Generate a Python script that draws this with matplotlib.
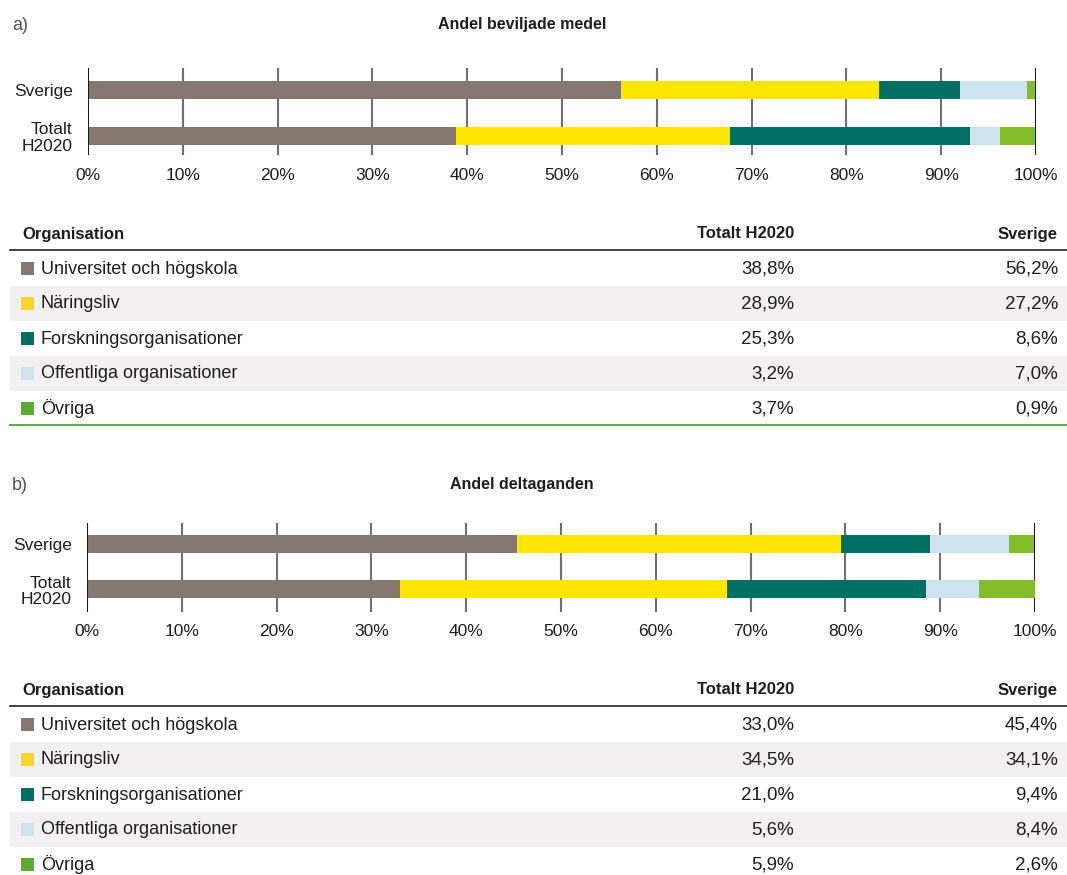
import matplotlib
matplotlib.use('Agg')
import matplotlib.pyplot as plt
from matplotlib import font_manager
from matplotlib.patches import Rectangle

plt.rcParams['font.family'] = ['Liberation Sans', 'DejaVu Sans']

namn = set(f.name for f in font_manager.fontManager.ttflist)
smal = 'Liberation Sans Narrow' if 'Liberation Sans Narrow' in namn else 'Liberation Sans'

# data
organisationer = ['Universitet och högskola', 'Näringsliv', 'Forskningsorganisationer',
                  'Offentliga organisationer', 'Övriga']
farger = ['#857870', '#FFE600', '#006F64', '#CDE3EE', '#84BC2A']
legendfarger = ['#857870', '#F9D72A', '#006F64', '#CDE3EE', '#5FAA34']
medel_totalt = [38.8, 28.9, 25.3, 3.2, 3.7]
medel_sverige = [56.2, 27.2, 8.6, 7.0, 0.9]
delt_totalt = [33.0, 34.5, 21.0, 5.6, 5.9]
delt_sverige = [45.4, 34.1, 9.4, 8.4, 2.6]
staplar = ['Totalt\nH2020', 'Sverige']
xticks = [0, 10, 20, 30, 40, 50, 60, 70, 80, 90, 100]

W, H = 1067, 875
fig = plt.figure(figsize=(W / 100, H / 100), dpi=100)

# bakgrundsaxel i pixlar for tabeller och rubriker
bg = fig.add_axes([0, 0, 1, 1])
bg.set_xlim(0, W)
bg.set_ylim(H, 0)
bg.axis('off')

textfarg = '#1e1e1e'


def stapelpanel(top, bottom, left, right, y_sv, y_tot, totalt, sverige):
    ax = fig.add_axes([left / W, 1 - bottom / H, (right - left) / W, (bottom - top) / H])
    steg = y_tot - y_sv
    lt, ls = 0, 0
    for i in range(len(organisationer)):
        ax.barh([0, 1], [totalt[i], sverige[i]], left=[lt, ls], height=18 / steg,
                color=farger[i], zorder=3)
        lt += totalt[i]
        ls += sverige[i]
    ax.set_xlim(0, 100)
    ax.set_ylim(-(bottom - y_tot) / steg, 1 + (y_sv - top) / steg)
    for x in xticks[1:-1]:
        ax.axvline(x, color='#707070', lw=1.5, zorder=1)
    ax.axvline(0, color='#1a1a1a', lw=1.5, zorder=4)
    ax.axvline(100, color='#1a1a1a', lw=1.5, zorder=1)
    for s in ax.spines.values():
        s.set_visible(False)
    ax.patch.set_alpha(0)
    ax.set_xticks(xticks)
    ax.set_xticklabels([f'{v}%' for v in xticks], fontsize=12.5, color=textfarg)
    ax.set_yticks([0, 1])
    ax.set_yticklabels(staplar, fontsize=12.5, color=textfarg)
    for t in ax.get_yticklabels():
        t.set_linespacing(1.15)
        t.set_multialignment('right')
    ax.tick_params(axis='x', length=0, pad=9)
    ax.tick_params(axis='y', length=0, pad=11)
    return ax


def tabell(y_head, y_line, y_first, totalt, sverige, gron_linje=None):
    bg.text(22, y_head, 'Organisation', family=smal, weight='bold', fontsize=12,
            va='center', ha='left', color=textfarg)
    bg.text(794, y_head, 'Totalt H2020', family=smal, weight='bold', fontsize=12,
            va='center', ha='right', color=textfarg)
    bg.text(1058, y_head, 'Sverige', family=smal, weight='bold', fontsize=12,
            va='center', ha='right', color=textfarg)
    bg.plot([10, W], [y_line, y_line], color='#222222', lw=1.2)
    for i, org in enumerate(organisationer):
        yc = y_first + 35 * i
        if i % 2 == 1:
            bg.add_patch(Rectangle((10, yc - 17.5), W - 10, 35, color='#F2F0F0', lw=0))
        bg.add_patch(Rectangle((21, yc - 6.5), 13, 13, color=legendfarger[i], lw=0))
        bg.text(41, yc + 1, org, fontsize=13, va='center', ha='left', color=textfarg)
        bg.text(794, yc + 1, f'{totalt[i]:.1f}%'.replace('.', ','), fontsize=13.5,
                va='center', ha='right', color=textfarg)
        bg.text(1058, yc + 1, f'{sverige[i]:.1f}%'.replace('.', ','), fontsize=13.5,
                va='center', ha='right', color=textfarg)
    if gron_linje is not None:
        bg.plot([10, W], [gron_linje, gron_linje], color='#5AAE45', lw=1.5)


# a)
bg.text(12, 25, 'a)', fontsize=13, color='#555555', va='center', ha='left')
bg.text(522, 25, 'Andel beviljade medel', family=smal, weight='bold', fontsize=11.5,
        va='center', ha='center', color=textfarg)
stapelpanel(68, 155, 88, 1036, 90, 136, medel_totalt, medel_sverige)
tabell(234, 250, 268, medel_totalt, medel_sverige, gron_linje=425)

# b)
bg.text(12, 485, 'b)', fontsize=13, color='#555555', va='center', ha='left')
bg.text(522, 485, 'Andel deltaganden', family=smal, weight='bold', fontsize=11.5,
        va='center', ha='center', color=textfarg)
stapelpanel(523, 612, 87, 1035, 544, 589, delt_totalt, delt_sverige)
tabell(690, 706, 724, delt_totalt, delt_sverige)

fig.savefig('out.png', dpi=100)
